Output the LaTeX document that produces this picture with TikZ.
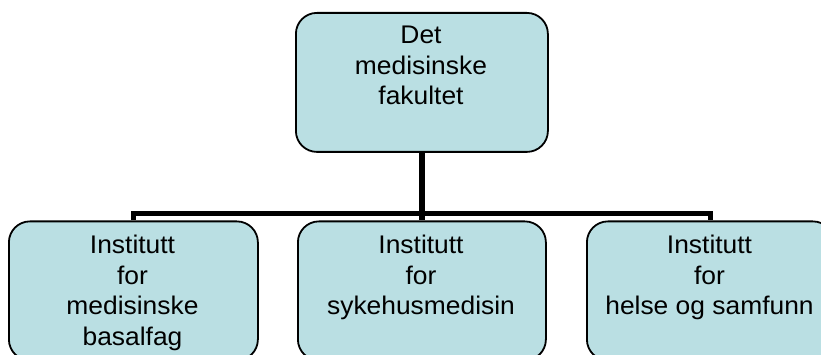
\documentclass[tikz,border=0pt]{standalone}
\usepackage{fontspec}
\setmainfont[FakeStretch=1.035]{Liberation Sans}
\definecolor{boxfill}{RGB}{186,223,227}
\begin{document}
\begin{tikzpicture}[x=1pt,y=-1pt,
  box/.style={draw=black, line width=1.8pt, fill=boxfill, rounded corners=21pt,
    minimum height=139pt, anchor=north west, inner sep=0pt},
  lbl/.style={align=center, anchor=north, inner sep=0pt,
    font=\fontsize{25.5}{30.5}\selectfont},
  conn/.style={line width=5.5pt, draw=black, line join=miter}]
\useasboundingbox (0,0) rectangle (821,355);
\clip (0,0) rectangle (821,355);
\node[box, minimum width=252pt] (top) at (295,12) {};
\node[box, minimum width=249pt] (left) at (8,220.5) {};
\node[box, minimum width=248pt] (mid) at (297,220.5) {};
\node[box, minimum width=247pt] (right) at (586,220.5) {};
\coordinate (bus) at (421,213.5);
\draw[conn] (left.north) |- (bus) -| (right.north);
\draw[conn] (top.south) -- (mid.north);
\node[lbl] (topT) at (421,26) {Det\\medisinske\\fakultet};
\node[lbl] (leftT) at (132.5,235) {Institutt\\for\\medisinske\\basalfag};
\node[lbl] (midT) at (421,235) {Institutt\\for\\sykehusmedisin};
\node[lbl] (rightT) at (709.5,235) {Institutt\\for\\helse og samfunn};
\end{tikzpicture}
\end{document}
